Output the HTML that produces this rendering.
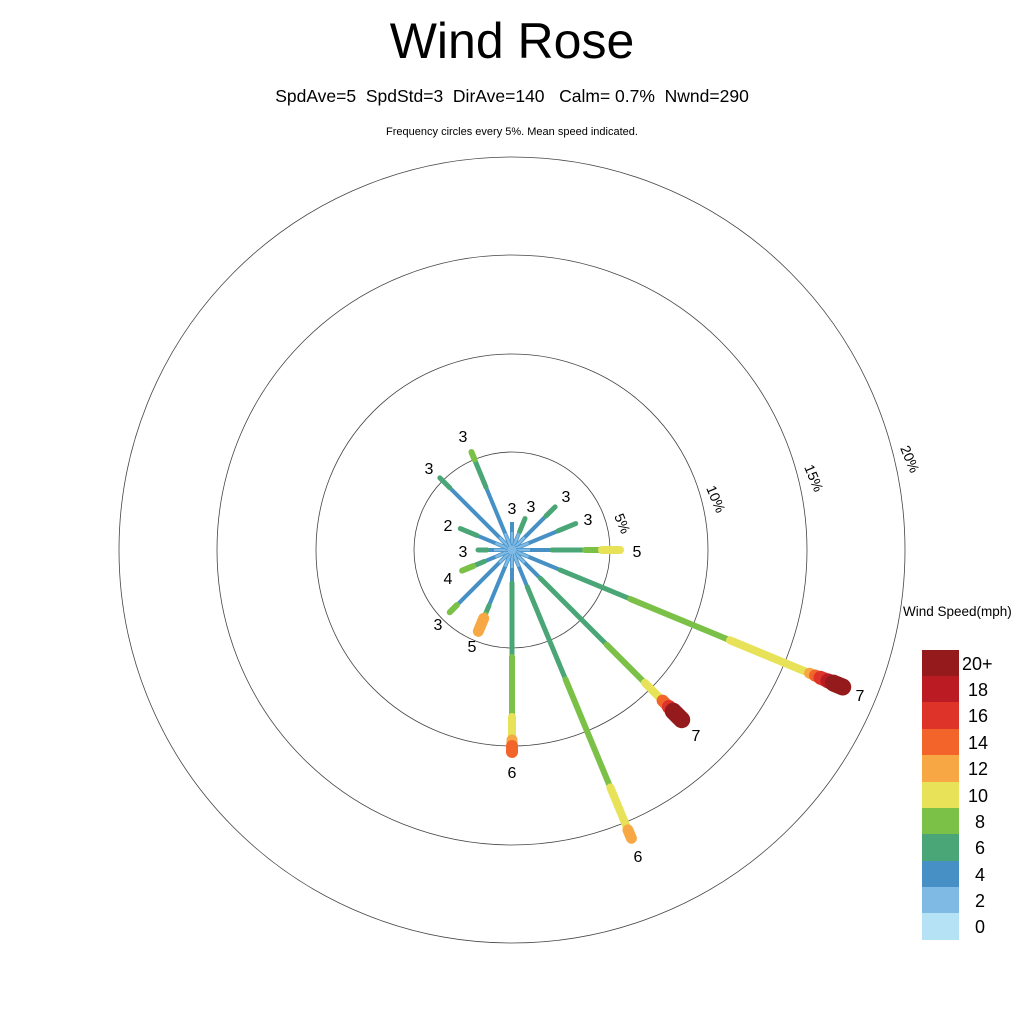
<!DOCTYPE html>
<html><head><meta charset="utf-8"><style>
html,body{margin:0;padding:0;background:#fff;}
svg{display:block;font-family:"Liberation Sans",sans-serif;}
</style></head><body>
<svg id="s" width="1024" height="1024" viewBox="0 0 1024 1024">
<text x="512" y="58" font-size="50" text-anchor="middle">Wind Rose</text>
<text x="512" y="102" font-size="17.5" text-anchor="middle" style="white-space:pre">SpdAve=5  SpdStd=3  DirAve=140   Calm= 0.7%  Nwnd=290</text>
<text x="512" y="135" font-size="11" text-anchor="middle">Frequency circles every 5%. Mean speed indicated.</text>
<g fill="none" stroke="#444" stroke-width="0.8">
<circle cx="512" cy="550" r="98"/><circle cx="512" cy="550" r="196"/><circle cx="512" cy="550" r="295"/><circle cx="512" cy="550" r="393"/>
</g>
<g font-size="14">
<text transform="translate(614,516) rotate(67.5)">5%</text>
<text transform="translate(706,488) rotate(67.5)">10%</text>
<text transform="translate(804,467) rotate(67.5)">15%</text>
<text transform="translate(900,448) rotate(67.5)">20%</text>
</g>
<g id="sp"></g>
<g font-size="16" text-anchor="middle">
<text x="463" y="442">3</text><text x="429" y="474">3</text><text x="512" y="514">3</text><text x="531" y="512">3</text>
<text x="566" y="502">3</text><text x="588" y="525">3</text><text x="448" y="531">2</text><text x="463" y="557">3</text>
<text x="448" y="584">4</text><text x="438" y="630">3</text><text x="472" y="652">5</text><text x="637" y="557">5</text>
<text x="860" y="701">7</text><text x="696" y="741">7</text><text x="512" y="778">6</text><text x="638" y="862">6</text>
</g>
<text x="903" y="616" font-size="13.5">Wind Speed(mph)</text>
<g>
<rect x="922" y="650" width="37" height="27" fill="#941a1c"/>
<rect x="922" y="676" width="37" height="27" fill="#bb1c24"/>
<rect x="922" y="702" width="37" height="27" fill="#dd3328"/>
<rect x="922" y="729" width="37" height="27" fill="#f2642a"/>
<rect x="922" y="755" width="37" height="27" fill="#f7a845"/>
<rect x="922" y="782" width="37" height="27" fill="#e7e257"/>
<rect x="922" y="808" width="37" height="27" fill="#7bc148"/>
<rect x="922" y="834" width="37" height="27" fill="#4aa676"/>
<rect x="922" y="861" width="37" height="27" fill="#4690c6"/>
<rect x="922" y="887" width="37" height="27" fill="#7fbae5"/>
<rect x="922" y="913" width="37" height="27" fill="#b6e2f5"/>
</g>
<g font-size="18">
<text x="962" y="670">20+</text><text x="968" y="696">18</text><text x="968" y="722">16</text><text x="968" y="749">14</text>
<text x="968" y="775">12</text><text x="968" y="802">10</text><text x="975" y="828">8</text><text x="975" y="854">6</text>
<text x="975" y="881">4</text><text x="975" y="907">2</text><text x="975" y="933">0</text>
</g>
</svg>
<script>
var C={lb:["#7fbae5",2],b:["#4690c6",4],g:["#4aa676",5],lg:["#7bc148",6],y:["#e7e257",8],o:["#f7a845",11],ro:["#f2642a",12],r:["#dd3328",14],dr:["#bb1c24",15],k:["#941a1c",17]};
var S=[
[0,[["b",28]]],[22.5,[["b",20],["g",34]]],[45,[["b",48],["g",61]]],[67.5,[["b",50],["g",69]]],
[90,[["b",40],["g",73],["lg",90],["y",108]]],
[112.5,[["b",52],["g",128],["lg",236],["y",322],["o",328],["ro",334],["r",342],["dr",348],["k",358]]],
[135,[["b",40],["g",134],["lg",188],["y",213],["ro",222],["r",228],["k",240]]],
[157.5,[["b",40],["g",140],["lg",257],["y",303],["o",312]]],
[180,[["b",33],["g",107],["lg",167],["y",190],["o",196],["ro",202]]],
[202.5,[["b",60],["g",70],["lg",74],["o",88]]],
[225,[["b",78],["lg",88]]],[247.5,[["b",30],["g",42],["lg",54]]],[270,[["b",25],["g",34]]],
[292.5,[["b",38],["g",56]]],[315,[["b",88],["g",102]]],[337.5,[["b",68],["g",98],["lg",106]]]];
var h="";
function P(a,r){a=a*Math.PI/180;return [512+r*Math.sin(a),550-r*Math.cos(a)];}
S.forEach(function(s){var a=s[0],r0=0;s[1].forEach(function(seg){var c=C[seg[0]],p=P(a,Math.max(r0,seg[0]=="b"?4:r0)),q=P(a,seg[1]);
h+='<line x1="'+p[0]+'" y1="'+p[1]+'" x2="'+q[0]+'" y2="'+q[1]+'" stroke="'+c[0]+'" stroke-width="'+c[1]+'" stroke-linecap="'+(r0==0?'butt':'round')+'"/>';r0=seg[1];});
var p=P(a,0),q=P(a,18);h+='<line x1="'+p[0]+'" y1="'+p[1]+'" x2="'+q[0]+'" y2="'+q[1]+'" stroke="#7fbae5" stroke-width="2.5"/>';});
document.getElementById("sp").innerHTML=h;
</script>
</body></html>
